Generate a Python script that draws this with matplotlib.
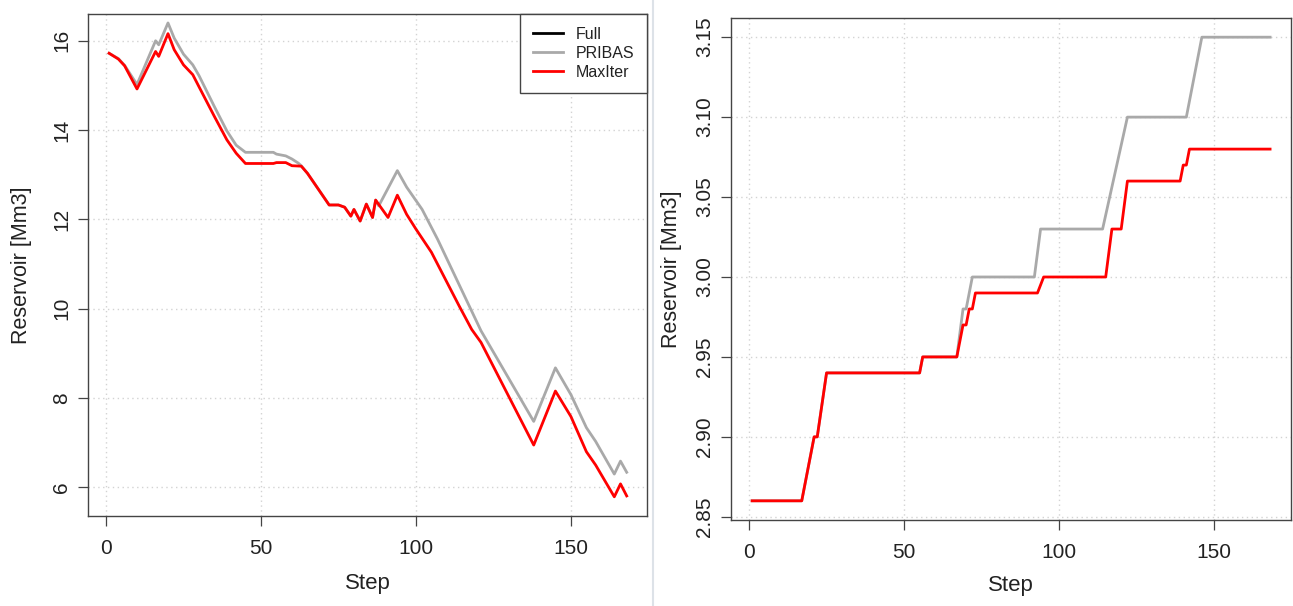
import matplotlib
matplotlib.use("Agg")
import matplotlib.pyplot as plt
from matplotlib.lines import Line2D
from matplotlib.ticker import FormatStrFormatter

plt.rcParams['font.family'] = ['Liberation Sans', 'DejaVu Sans']

# ---------------- data (vertices of each series) ----------------
# Left panel: reservoir level descending
left_maxiter_step = [1, 4, 6, 10, 16, 17, 20, 22, 25, 28, 30, 35, 39, 42, 45, 54, 55, 58, 60,
                     63, 65, 72, 75, 77, 79, 80, 82, 84, 86, 87, 91, 94, 97, 100, 105, 114,
                     118, 121, 138, 145, 150, 155, 158, 164, 166, 168]
left_maxiter_val = [15.72, 15.59, 15.44, 14.92, 15.76, 15.65, 16.16, 15.80, 15.46, 15.24, 14.97,
                    14.30, 13.78, 13.48, 13.25, 13.25, 13.27, 13.27, 13.20, 13.19, 13.03, 12.32,
                    12.32, 12.27, 12.07, 12.22, 11.96, 12.34, 12.04, 12.43, 12.04, 12.54, 12.11,
                    11.78, 11.26, 10.05, 9.53, 9.24, 6.94, 8.15, 7.58, 6.79, 6.49, 5.78, 6.07, 5.80]

left_pribas_step = [1, 4, 6, 10, 16, 17, 20, 22, 25, 28, 30, 35, 39, 42, 45, 54, 55, 58, 60, 62,
                    63, 65, 72, 75, 77, 79, 80, 82, 84, 86, 87, 88, 94, 97, 102, 107, 121, 138,
                    145, 150, 155, 158, 164, 166, 168]
left_pribas_val = [15.72, 15.60, 15.45, 15.02, 16.00, 15.91, 16.40, 16.06, 15.70, 15.46, 15.22,
                   14.52, 13.98, 13.66, 13.50, 13.50, 13.46, 13.42, 13.35, 13.26, 13.20, 13.03,
                   12.32, 12.32, 12.27, 12.07, 12.22, 11.96, 12.34, 12.04, 12.43, 12.30, 13.09,
                   12.72, 12.22, 11.55, 9.50, 7.47, 8.67, 8.07, 7.33, 7.02, 6.29, 6.58, 6.33]

# Right panel: reservoir level rising in steps
right_maxiter_step = [1, 17, 21, 22, 25, 55, 56, 67, 69, 70, 71, 72, 73, 93, 95, 115, 117, 120,
                      122, 139, 140, 141, 142, 168]
right_maxiter_val = [2.86, 2.86, 2.90, 2.90, 2.94, 2.94, 2.95, 2.95, 2.97, 2.97, 2.98, 2.98,
                     2.99, 2.99, 3.00, 3.00, 3.03, 3.03, 3.06, 3.06, 3.07, 3.07, 3.08, 3.08]

right_pribas_step = [1, 17, 21, 22, 25, 55, 56, 67, 69, 70, 72, 92, 94, 114, 122, 141, 146, 168]
right_pribas_val = [2.86, 2.86, 2.90, 2.90, 2.94, 2.94, 2.95, 2.95, 2.98, 2.98, 3.00, 3.00,
                    3.03, 3.03, 3.10, 3.10, 3.15, 3.15]

legend_labels = ["Full", "PRIBAS", "MaxIter"]
x_ticks = [0, 50, 100, 150]
left_y_ticks = [6, 8, 10, 12, 14, 16]
right_y_ticks = [2.85, 2.90, 2.95, 3.00, 3.05, 3.10, 3.15]

# ---------------- figure ----------------
W, H = 1293, 606
fig = plt.figure(figsize=(W / 100, H / 100), dpi=100)

ax1 = fig.add_axes([88.4 / W, (H - 516) / H, 559 / W, 502 / H])
ax2 = fig.add_axes([731.4 / W, (H - 520) / H, 559.4 / W, 502 / H])

GRAY = "#a9a9a9"
RED = "#ff0000"
SPINE = "#444444"
TXT = "#222222"
LW = 2.0


def style(ax, yticks, ylim, ylab_x, xlab_y, fmt=None):
    ax.set_xlim(-5.68, 174.68)
    ax.set_ylim(*ylim)
    ax.set_xticks(x_ticks)
    ax.set_yticks(yticks)
    if fmt:
        ax.yaxis.set_major_formatter(FormatStrFormatter(fmt))
    ax.grid(True, color="#d3d3d3", linestyle=(0, (1, 2.5)), linewidth=1.0)
    ax.set_axisbelow(True)
    for s in ax.spines.values():
        s.set_color(SPINE)
        s.set_linewidth(1.0)
    ax.tick_params(axis="both", direction="out", length=7.5, width=0.9, color=SPINE,
                   labelsize=15, labelcolor=TXT)
    ax.tick_params(axis="x", pad=9)
    ax.tick_params(axis="y", pad=5)
    for lbl in ax.get_yticklabels():
        lbl.set_rotation(90)
        lbl.set_va("center")
    ax.set_xlabel("Step", fontsize=16, color=TXT, va="center")
    ax.set_ylabel("Reservoir [Mm3]", fontsize=15.5, color=TXT, va="center")
    ax.xaxis.set_label_coords(0.5, xlab_y)
    ax.yaxis.set_label_coords(ylab_x, 0.5)


ax1.plot(left_pribas_step, left_pribas_val, color=GRAY, lw=LW, zorder=3)
ax1.plot(left_maxiter_step, left_maxiter_val, color=RED, lw=LW, zorder=4)
style(ax1, left_y_ticks, (5.35, 16.6), (22 - 88.4) / 559, (516 - 583) / 502)

ax2.plot(right_pribas_step, right_pribas_val, color=GRAY, lw=LW, zorder=3)
ax2.plot(right_maxiter_step, right_maxiter_val, color=RED, lw=LW, zorder=4)
style(ax2, right_y_ticks, (2.848, 3.162), (672 - 731.4) / 559.4, (520 - 585) / 502, "%.2f")

handles = [Line2D([], [], color="black", lw=LW),
           Line2D([], [], color=GRAY, lw=LW),
           Line2D([], [], color=RED, lw=LW)]
leg = ax1.legend(handles, legend_labels, loc="upper right", fontsize=11.5,
                 frameon=True, fancybox=False, framealpha=1, edgecolor=SPINE,
                 borderaxespad=0, handlelength=1.9, handletextpad=0.8,
                 labelspacing=0.25, borderpad=0.8)
leg.get_frame().set_linewidth(1.0)
for t in leg.get_texts():
    t.set_color(TXT)

# separator between the two panels
fig.add_artist(Line2D([653 / W, 653 / W], [0.0, 1.0], color="#dde2e8", lw=1.5,
                      transform=fig.transFigure))

fig.savefig("out.png", dpi=100)
